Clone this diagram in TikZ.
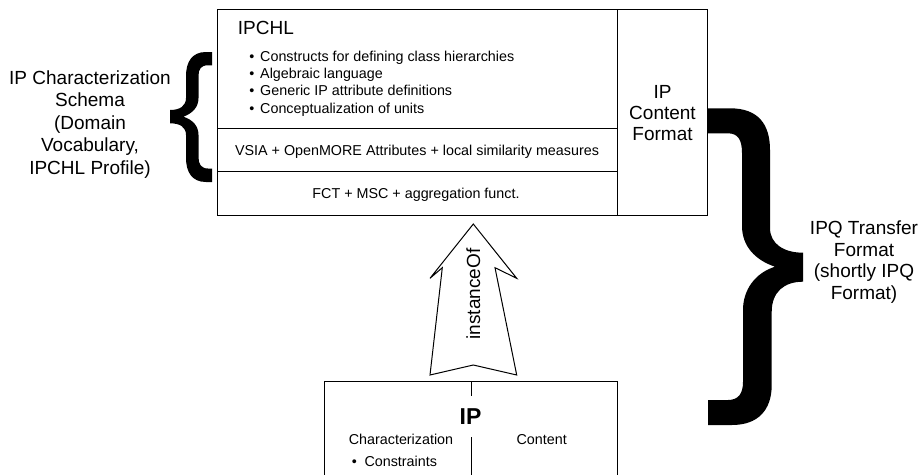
\documentclass[tikz,border=0pt]{standalone}
\usepackage{fontspec}
\setmainfont{Liberation Sans}
\begin{document}
\begin{tikzpicture}[x=1pt,y=-1pt,
  small/.style={inner sep=0pt,font=\fontsize{14.33}{17.4}\selectfont},
  big/.style={inner sep=0pt,font=\fontsize{19}{21.7}\selectfont},
  frame/.style={draw=black,line width=1pt},
  bracefill/.style={fill=black,draw=none}]
\useasboundingbox (0,0) rectangle (920,474);
\clip (0,0) rectangle (920,474);

% top block
\draw[frame] (217,9) rectangle (707,215);
\draw[frame] (617,9) -- (617,215);
\draw[frame] (217,128) -- (617,128);
\draw[frame] (217,171) -- (617,171);

\node[big,anchor=base west] (ipchl) at (237.7,34.3) {IPCHL};
\foreach \t [count=\i] in {Constructs for defining class hierarchies,Algebraic language,Generic IP attribute definitions,Conceptualization of units}{
  \node[small,anchor=base] (b\i) at (252,61+17.4*\i-17.4) {\textbullet};
  \node[small,anchor=base west] (t\i) at (260,61+17.4*\i-17.4) {\t};
}
\node[small,anchor=base] (vsia) at (417,155) {VSIA + OpenMORE Attributes + local similarity measures};
\node[small,anchor=base] (fct) at (416,198.3) {FCT + MSC + aggregation funct.};

\node[big,anchor=base] (ipc1) at (662.5,98.3) {IP};
\node[big,anchor=base] (ipc2) at (662.5,119.5) {Content};
\node[big,anchor=base] (ipc3) at (662.5,140.5) {Format};

% left label
\node[big,anchor=base] (l1) at (90,84) {IP Characterization};
\node[big,anchor=base] (l2) at (90,106.5) {Schema};
\node[big,anchor=base] (l3) at (90,129) {(Domain};
\node[big,anchor=base] (l4) at (90,151.5) {Vocabulary,};
\node[big,anchor=base] (l5) at (90,174) {IPCHL Profile)};

% right label
\node[big,anchor=base] (r1) at (864,234.3) {IPQ Transfer};
\node[big,anchor=base] (r2) at (864,256) {Format};
\node[big,anchor=base] (r3) at (864,277.7) {(shortly IPQ};
\node[big,anchor=base] (r4) at (864,299.4) {Format)};

% left brace
\path[bracefill] (212,52) -- (206,52) .. controls (192,52) and (186,62) .. (186,76)
  -- (186,98) .. controls (186,106) and (180,110) .. (170,110)
  -- (170,123.3) .. controls (180,123.3) and (186,127) .. (186,135)
  -- (186,158) .. controls (186,172) and (192,182) .. (206,182)
  -- (212,182) -- (212,168.5) -- (208,168.5) .. controls (201,168.5) and (198.5,164) .. (198.5,157)
  -- (198.5,135) .. controls (198.5,126) and (193,120) .. (183.5,116.7)
  .. controls (193,113) and (198.5,107) .. (198.5,98)
  -- (198.5,76) .. controls (198.5,69) and (201,65.3) .. (208,65.3)
  -- (212,65.3) -- cycle;

% right brace
\path[bracefill] (708,108.3) -- (730,108.3) .. controls (758,108.3) and (770,124) .. (770,150)
  -- (770,228) .. controls (770,244) and (784,252.7) .. (803,252.7)
  -- (803,281.7) .. controls (784,281.7) and (771.7,292) .. (771.7,312)
  -- (771.7,385) .. controls (771.7,410) and (758,425) .. (732,425)
  -- (708,425) -- (708,400) -- (728,400) .. controls (738,400) and (743,394) .. (743,382)
  -- (743,310) .. controls (743,290) and (755,273) .. (775,266.7)
  .. controls (755,260) and (742,246) .. (742,226)
  -- (742,153) .. controls (742,140) and (738,133.3) .. (728,133.3)
  -- (708,133.3) -- cycle;

% instanceOf arrow
\draw[frame,fill=white,line join=miter] (473.3,224) -- (516.7,278.3) -- (495,267.7) -- (516.7,375)
  -- (473.3,365) -- (430,375) -- (442.3,267.7) -- (430,278.3) -- cycle;
\node[big,anchor=base,rotate=90] (inst) at (480,294) {instanceOf};

% IP box
\draw[frame] (324,381) rectangle (617,490);
\draw[frame] (471,381) -- (471,396);
\draw[frame] (471,437) -- (471,490);
\node[inner sep=0pt,anchor=base,font=\fontsize{23}{26}\selectfont\bfseries] (ip) at (470.5,424) {IP};
\node[small,anchor=base] (char) at (401,444.3) {Characterization};
\node[small,anchor=base] (cont) at (541.7,444.3) {Content};
\node[small,anchor=base] (cb) at (354.3,466) {\textbullet};
\node[small,anchor=base west] (cons) at (364.3,466) {Constraints};
\end{tikzpicture}
\end{document}
